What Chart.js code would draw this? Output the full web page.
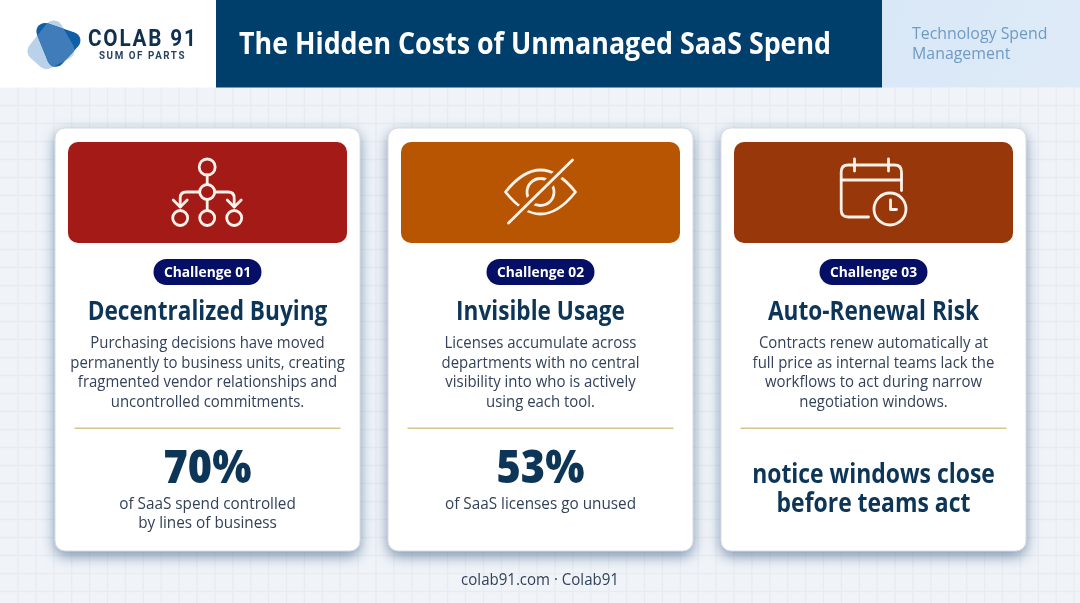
<!DOCTYPE html>
<html><head><meta charset="utf-8"><title>The Hidden Costs of Unmanaged SaaS Spend</title>
<style>html,body{margin:0;padding:0;background:#eff3f9;overflow:hidden}#wrap{position:relative;width:1080px;height:603px}canvas{display:block}</style>
<script src="https://cdn.jsdelivr.net/npm/chart.js@4"></script></head>
<body><div id="wrap"><canvas id="c" width="1080" height="603"></canvas></div>
<script>
// ---- data ----
const categories = ["Challenge 01", "Challenge 02", "Challenge 03"];
const cardTitles = ["Decentralized Buying", "Invisible Usage", "Auto-Renewal Risk"];
const cardBodies = [
  ["Purchasing decisions have moved", "permanently to business units, creating", "fragmented vendor relationships and", "uncontrolled commitments."],
  ["Licenses accumulate across", "departments with no central", "visibility into who is actively", "using each tool."],
  ["Contracts renew automatically at", "full price as internal teams lack the", "workflows to act during narrow", "negotiation windows."]
];
const statValues = [70, 53, null];
const statCaptions = [["of SaaS spend controlled", "by lines of business"], ["of SaaS licenses go unused"], []];
const statStatements = [[], [], ["notice windows close", "before teams act"]];
const headerTitle = "The Hidden Costs of Unmanaged SaaS Spend";
const headerSide = ["Technology Spend", "Management"];
const brandName = "COLAB 91";
const brandTag = "SUM OF PARTS";
const footerText = "colab91.com · Colab91";
const bandColors = ["#a31a17", "#b85503", "#97370a"];

// ---- helpers ----
const FONT = "'Open Sans'";
function txt(ctx, s, x, y, font, color, squeeze = 0.9, align = "center", spacing = "0px") {
  ctx.font = font; ctx.fillStyle = color; ctx.textAlign = align; ctx.textBaseline = "alphabetic";
  ctx.letterSpacing = spacing;
  const w = ctx.measureText(s).width;
  ctx.fillText(s, x, y, w * squeeze);
  ctx.letterSpacing = "0px";
}
function rr(ctx, x, y, w, h, r) { ctx.beginPath(); ctx.roundRect(x, y, w, h, r); }
function poly(ctx, pts, r) {
  ctx.beginPath();
  const n = pts.length, m = (a, b) => [(a[0] + b[0]) / 2, (a[1] + b[1]) / 2];
  const s = m(pts[n - 1], pts[0]); ctx.moveTo(s[0], s[1]);
  for (let i = 0; i < n; i++) { const p = pts[i], q = pts[(i + 1) % n], e = m(p, q); ctx.arcTo(p[0], p[1], e[0], e[1], r); ctx.lineTo(e[0], e[1]); }
  ctx.closePath();
}
function circle(ctx, x, y, r) { ctx.beginPath(); ctx.arc(x, y, r, 0, Math.PI * 2); ctx.stroke(); }
function path(ctx, pts) { ctx.beginPath(); pts.forEach((p, i) => i ? ctx.lineTo(p[0], p[1]) : ctx.moveTo(p[0], p[1])); ctx.stroke(); }

function drawBackdrop(ctx) {
  ctx.fillStyle = "#f0f4f9"; ctx.fillRect(0, 0, 1080, 603);
  ctx.strokeStyle = "#e7ebf2"; ctx.lineWidth = 1.3;
  for (let x = 18; x < 1080; x += 17.9) { path(ctx, [[x, 87], [x, 603]]); }
  for (let y = 105.5; y < 603; y += 18) { path(ctx, [[0, y], [1080, y]]); }
  ctx.fillStyle = "#ffffff"; ctx.fillRect(0, 0, 216, 87.5);
  ctx.fillStyle = "#003f6b"; ctx.fillRect(216, 0, 666, 87.5);
  const g = ctx.createLinearGradient(882, 0, 1080, 87);
  g.addColorStop(0, "#d9e8f7"); g.addColorStop(1, "#deeaf7");
  ctx.fillStyle = g; ctx.fillRect(882, 0, 198, 87.5);
}
function drawLogo(ctx) {
  const light = [[55, 13.5], [24, 52], [45, 71], [78, 54]];
  const dark = [[30, 17.5], [87, 36.5], [53, 74]];
  ctx.fillStyle = "#b9d2ea"; poly(ctx, light, 9); ctx.fill();
  ctx.fillStyle = "#0f5ea8"; poly(ctx, dark, 8.5); ctx.fill();
  ctx.save(); poly(ctx, light, 9); ctx.clip();
  ctx.fillStyle = "#3f7cb9"; poly(ctx, dark, 8.5); ctx.fill(); ctx.restore();
  txt(ctx, brandName, 88, 46, "700 23px Roboto", "#10304f", .9, "left", "2px");
  txt(ctx, brandTag, 99, 59, "700 10px Roboto", "#2a4460", .98, "left", "1.6px");
}
function drawIcon(ctx, i, cx) {
  const cy = 192;
  ctx.save(); ctx.strokeStyle = "#fdf1e8"; ctx.lineWidth = 2.8; ctx.lineCap = "round"; ctx.lineJoin = "round";
  if (i === 0) {
    const c = cx - .3;
    circle(ctx, c, cy - 25, 8); circle(ctx, c, cy, 7.5);
    [-27, 0, 27].forEach(d => circle(ctx, c + d, cy + 26, 7.5));
    path(ctx, [[c, cy - 17], [c, cy - 7.5]]); path(ctx, [[c, cy + 7.5], [c, cy + 18.5]]);
    [-1, 1].forEach(s => {
      ctx.beginPath(); ctx.moveTo(c + s * 7.5, cy); ctx.lineTo(c + s * 21, cy);
      ctx.quadraticCurveTo(c + s * 27, cy, c + s * 27, cy + 6); ctx.lineTo(c + s * 27, cy + 15); ctx.stroke();
      path(ctx, [[c + s * 27 - 7, cy + 8], [c + s * 27, cy + 15], [c + s * 27 + 7, cy + 8]]);
    });
  } else if (i === 1) {
    ctx.beginPath(); ctx.moveTo(cx - 35, cy);
    ctx.quadraticCurveTo(cx, cy - 44, cx + 35, cy); ctx.quadraticCurveTo(cx, cy + 44, cx - 35, cy); ctx.closePath(); ctx.stroke();
    circle(ctx, cx, cy, 13.5);
    ctx.strokeStyle = bandColors[1]; ctx.lineWidth = 10; ctx.lineCap = "butt";
    path(ctx, [[cx - 32, cy + 31], [cx + 32, cy - 32]]);
    ctx.strokeStyle = "#fdf1e8"; ctx.lineWidth = 2.8; ctx.lineCap = "round";
    path(ctx, [[cx - 32, cy + 31], [cx + 32, cy - 32]]);
  } else {
    const l = cx - 32.3, r = cx + 28;
    ctx.beginPath(); ctx.moveTo(r, cy - 1.5); ctx.lineTo(r, cy - 20);
    ctx.quadraticCurveTo(r, cy - 27, r - 7, cy - 27); ctx.lineTo(l + 7, cy - 27);
    ctx.quadraticCurveTo(l, cy - 27, l, cy - 20); ctx.lineTo(l, cy + 18);
    ctx.quadraticCurveTo(l, cy + 25, l + 7, cy + 25); ctx.lineTo(cx - 5, cy + 25); ctx.stroke();
    path(ctx, [[l, cy - 12], [r, cy - 12]]);
    path(ctx, [[cx - 19, cy - 33], [cx - 19, cy - 21]]); path(ctx, [[cx + 15, cy - 33], [cx + 15, cy - 21]]);
    circle(ctx, cx + 16.5, cy + 17, 16);
    path(ctx, [[cx + 17, cy + 8], [cx + 17, cy + 17.5], [cx + 23, cy + 17.5]]);
  }
  ctx.restore();
}
function drawCard(ctx, i, cx, val) {
  ctx.save();
  ctx.shadowColor = "rgba(45,80,125,.6)"; ctx.shadowBlur = 14; ctx.shadowOffsetY = 5;
  ctx.fillStyle = "#fff"; rr(ctx, cx - 152.5, 128, 305, 423, 10); ctx.fill(); ctx.restore();
  ctx.strokeStyle = "#d7dce4"; ctx.lineWidth = 1; rr(ctx, cx - 152.5, 128, 305, 423, 10); ctx.stroke();
  ctx.fillStyle = bandColors[i]; rr(ctx, cx - 139.5, 142, 279, 101, 10); ctx.fill();
  drawIcon(ctx, i, cx);
  ctx.fillStyle = "#050f66"; rr(ctx, cx - 54, 259, 108, 26, 13); ctx.fill();
  txt(ctx, categories[i], cx, 277, `700 15px ${FONT}`, "#fff", .92);
  txt(ctx, cardTitles[i], cx, 320, `700 26px ${FONT}`, "#0d3557", .87);
  cardBodies[i].forEach((l, k) => txt(ctx, l, cx, 348 + k * 19.5, `400 16.5px ${FONT}`, "#33425a", .905));
  ctx.fillStyle = "#d8c48e"; ctx.fillRect(cx - 133, 427.5, 266, 1.5);
  if (val !== null && val !== undefined) txt(ctx, val + "%", cx, 483, `800 46px ${FONT}`, "#0d3557", .9);
  statCaptions[i].forEach((l, k) => txt(ctx, l, cx, 509 + k * 19, `400 17px ${FONT}`, "#33425a", .9));
  statStatements[i].forEach((l, k) => txt(ctx, l, cx, 483 + k * 29, `700 26.5px ${FONT}`, "#0d3557", .865));
}
const stage = {
  id: "stage",
  beforeDraw(chart) { const ctx = chart.ctx; ctx.save(); drawBackdrop(ctx); ctx.restore(); },
  afterDatasetsDraw(chart) {
    const ctx = chart.ctx, x = chart.scales.x, vals = chart.data.datasets[0].data;
    ctx.save();
    drawLogo(ctx);
    txt(ctx, headerTitle, 239, 54, `700 30.5px ${FONT}`, "#ffffff", .879, "left");
    headerSide.forEach((l, k) => txt(ctx, l, 912, 39 + k * 20, `400 17px ${FONT}`, "#6f9ac4", .935, "left"));
    categories.forEach((_, i) => drawCard(ctx, i, x.getPixelForValue(i), vals[i]));
    txt(ctx, footerText, 540, 585, `400 16px ${FONT}`, "#33425a", .94);
    ctx.restore();
  }
};
new Chart(document.getElementById("c"), {
  type: "bar",
  data: { labels: categories, datasets: [{ label: "Share of SaaS", data: statValues, backgroundColor: "rgba(0,0,0,0)" }] },
  options: {
    responsive: false, animation: false, devicePixelRatio: 1,
    layout: { padding: { left: 41, right: 40, top: 0, bottom: 0 } },
    plugins: { legend: { display: false }, tooltip: { enabled: false }, title: { display: false } },
    scales: { x: { display: false }, y: { display: false, min: 0, max: 100 } }
  },
  plugins: [stage]
});
</script></body></html>
